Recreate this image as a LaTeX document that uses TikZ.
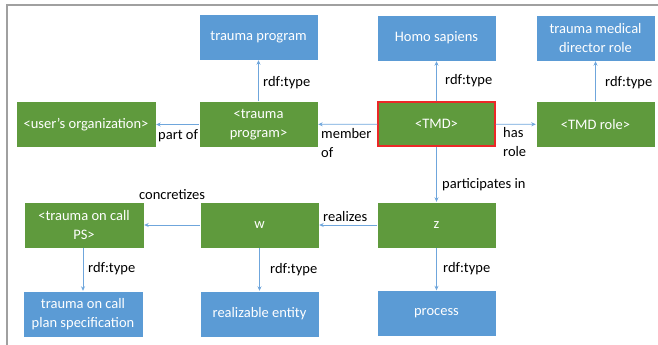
\documentclass[tikz,border=0pt]{standalone}
\usepackage{fontspec}
\setmainfont{Carlito}
\usetikzlibrary{arrows.meta}
\definecolor{boxgreen}{HTML}{5F9A3D}
\definecolor{boxblue}{HTML}{5B9BD5}
\definecolor{arrblue}{HTML}{6FA6DC}
\definecolor{framegray}{HTML}{A0A0A0}
\definecolor{tmdred}{RGB}{235,40,40}
\tikzset{
  base/.style={minimum height=46pt, minimum width=119pt, inner sep=1pt, align=center,
     text=white, font=\fontsize{14.5}{19.5}\selectfont, draw=white, line width=0.4pt},
  inst/.style={base, fill=boxgreen},
  cls/.style={base, fill=boxblue},
  redframe/.style={draw=tmdred, line width=1.8pt},
  lbl/.style={anchor=west, inner sep=0pt, align=left, font=\fontsize{14.5}{19.5}\selectfont, text=black},
  conn/.style={draw=arrblue, line width=0.8pt, -{Stealth[length=4.5pt,width=4pt]}}
}
\begin{document}
\begin{tikzpicture}[x=1pt,y=-1pt]
\useasboundingbox (0,0) rectangle (658,345);
\draw[framegray, line width=1.6pt] (7,345) -- (7,5) -- (658,5);
% class nodes
\node[cls] (tpc) at (258.5,37) {trauma program};
\node[cls] (homo) at (436.5,38) {Homo sapiens};
\node[cls] (tmdrc) at (595.5,38) {trauma medical\\director role};
\node[cls, minimum width=120pt] (plan) at (83,314) {trauma on call\\plan specification};
\node[cls] (real) at (259.5,314) {realizable entity};
\node[cls] (proc) at (436.5,313.5) {process};
% instance nodes
\node[inst, minimum width=140pt] (org) at (86,124.5) {<user's organization>};
\node[inst] (tpi) at (258.5,124.5) {<trauma\\program>};
\node[inst, draw=none, minimum width=118pt, minimum height=45pt] (tmd) at (436.5,124) {<TMD>};
\draw[redframe] ([shift={(0.9pt,0.9pt)}]tmd.south west) rectangle ([shift={(-0.9pt,-0.9pt)}]tmd.north east);
\node[inst] (tmdrole) at (595.5,124.5) {<TMD role>};
\node[inst, minimum width=120pt] (ps) at (84,225) {<trauma on call\\PS>};
\node[inst] (w) at (259.5,225) {w};
\node[inst] (z) at (436.5,225) {z};
% connectors
\draw[conn] (tpi) -- (tpc);
\draw[conn] (tmd) -- (homo);
\draw[conn] (tmdrole) -- (tmdrc);
\draw[conn] (tpi) -- (org);
\draw[conn] (tmd) -- (tpi);
\draw[conn] (tmd) -- (tmdrole);
\draw[conn] (tmd) -- (z);
\draw[conn] (z) -- (w);
\draw[conn] (w) -- (ps);
\draw[conn] (ps.south -| plan.north) -- (plan);
\draw[conn] (w.south -| real.north) -- (real);
\draw[conn] (z) -- (proc);
% labels
\node[lbl] (l1) at (263,83) {rdf:type};
\node[lbl] (l2) at (445,81) {rdf:type};
\node[lbl] (l3) at (605,83) {rdf:type};
\node[lbl] (l4) at (158,136) {part of};
\node[lbl] (l5) at (321,143) {member\\of};
\node[lbl] (l6) at (503,142) {has\\role};
\node[lbl] (l7) at (442,185) {participates in};
\node[lbl] (l8) at (139,195) {concretizes};
\node[lbl] (l9) at (323,217) {realizes};
\node[lbl] (l10) at (88,269) {rdf:type};
\node[lbl] (l11) at (270,270) {rdf:type};
\node[lbl] (l12) at (443,269) {rdf:type};
\end{tikzpicture}
\end{document}
